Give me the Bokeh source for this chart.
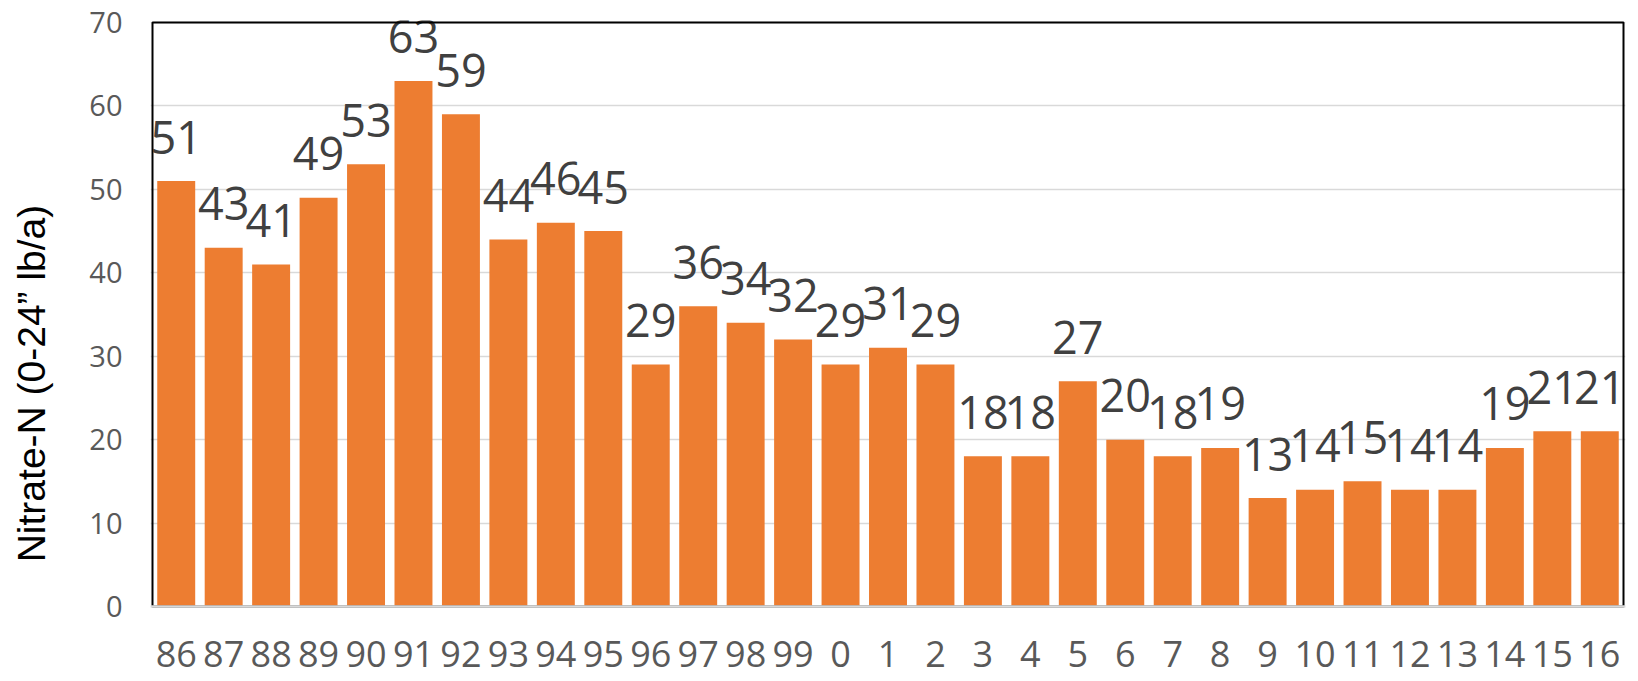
from bokeh.plotting import figure
from bokeh.models import ColumnDataSource, FactorRange, Range1d, FixedTicker, Span, BoxAnnotation
from bokeh.core.properties import value
from bokeh.embed import file_html
from bokeh.resources import INLINE

years = ["86", "87", "88", "89", "90", "91", "92", "93", "94", "95", "96", "97", "98", "99",
         "0", "1", "2", "3", "4", "5", "6", "7", "8", "9", "10", "11", "12", "13", "14", "15", "16"]
nitrate = [51, 43, 41, 49, 53, 63, 59, 44, 46, 45, 29, 36, 34, 32,
           29, 31, 29, 18, 18, 27, 20, 18, 19, 13, 14, 15, 14, 14, 19, 21, 21]
y_ticks = [0, 10, 20, 30, 40, 50, 60, 70]
y_title = "Nitrate-N (0-24\u201d lb/a)"

src = ColumnDataSource(dict(x=years, y=nitrate, t=[str(v) for v in nitrate],
                            base=[0] * len(years)))

W, H = 1638, 681
TOP = 22                 # pixel row of value 70
ZERO = 606               # pixel row of value 0
LEFT, RIGHT = 152, 1623  # pixel columns of the category band
PAD = 2                  # frame extends this many px beyond the plot box
scale = (ZERO - TOP) / 70.0
cat_w = (RIGHT - LEFT) / len(years)

p = figure(width=W, height=H, output_backend="svg", toolbar_location=None,
           x_range=FactorRange(*years, range_padding=PAD / cat_w, range_padding_units="absolute"),
           y_range=Range1d(-(H - ZERO) / scale, 70 + PAD / scale),
           min_border_left=LEFT - PAD, min_border_right=W - RIGHT - PAD,
           min_border_top=TOP - PAD, min_border_bottom=0)

p.vbar(x="x", top="y", width=0.8, source=src, fill_color="#ED7D31", line_color=None)

# value labels above the bars
p.text(x="x", y="y", text="t", source=src, text_align="center", text_baseline="alphabetic",
       y_offset=-44, text_font=value("Open Sans"), text_font_size="45px", text_color="#404040")

# category labels under the axis
p.text(x="x", y="base", text="x", source=src, text_align="center", text_baseline="alphabetic",
       y_offset=47, text_font=value("Open Sans"), text_font_size="36px", text_color="#595959")

p.outline_line_color = None
p.add_layout(BoxAnnotation(left=0, right=len(years), bottom=0, top=70,
                           fill_color=None, fill_alpha=0,
                           line_color="black", line_alpha=1, line_width=2))
p.add_layout(Span(location=0, dimension="width", line_color="#d9d9d9", line_width=2.5))

p.xgrid.grid_line_color = None
p.ygrid.grid_line_color = "#d9d9d9"
p.ygrid.grid_line_width = 1.5

p.xaxis.visible = False

p.yaxis.ticker = FixedTicker(ticks=y_ticks)
p.yaxis.axis_line_color = None
p.yaxis.major_tick_line_color = None
p.yaxis.minor_tick_line_color = None
p.yaxis.major_tick_out = 0
p.yaxis.major_tick_in = 0
p.yaxis.minor_tick_out = 0
p.yaxis.major_label_text_font = "Open Sans"
p.yaxis.major_label_text_font_size = "29px"
p.yaxis.major_label_text_color = "#595959"
p.yaxis.major_label_standoff = 28

# trailing no-break spaces push the centred title down, as in the reference
p.yaxis.axis_label = y_title + "\u00a0" * 6
p.yaxis.axis_label_text_font = "Liberation Sans"
p.yaxis.axis_label_text_font_style = "normal"
p.yaxis.axis_label_text_font_size = "39px"
p.yaxis.axis_label_text_color = "black"
p.yaxis.axis_label_standoff = 33

open("out.html", "w").write(file_html(p, INLINE))
